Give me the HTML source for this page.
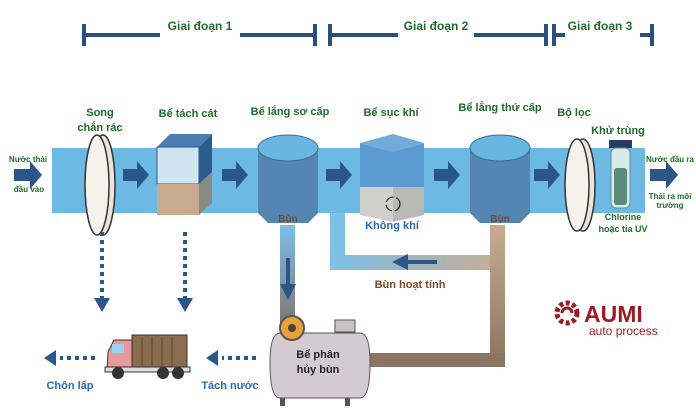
<!DOCTYPE html>
<html><head><meta charset="utf-8"><style>
body{margin:0;background:#fff}
svg{display:block;font-family:"Liberation Sans",sans-serif;font-weight:bold}
.g{fill:#1f6b2a;font-size:11px}
</style></head><body>
<svg width="696" height="412" viewBox="0 0 696 412">
<defs>
<linearGradient id="ret" x1="0" x2="1"><stop offset="0" stop-color="#7cc0e8"/><stop offset="1" stop-color="#c9ab90"/></linearGradient>
<linearGradient id="pri" x1="0" y1="0" x2="0" y2="1"><stop offset="0" stop-color="#7cc0e8"/><stop offset="1" stop-color="#7d7770"/></linearGradient>
<linearGradient id="sec" x1="0" y1="0" x2="0" y2="1"><stop offset="0" stop-color="#c9ab90"/><stop offset="1" stop-color="#8b7461"/></linearGradient>
<marker id="ah" markerWidth="4" markerHeight="4" refX="2" refY="2" orient="auto"><path d="M0,0L4,2L0,4z" fill="#2a5788"/></marker>
</defs>
<!-- stage bar -->
<g stroke="#2d4f7c" stroke-width="4" fill="none">
<line x1="84" y1="35" x2="160" y2="35"/><line x1="240" y1="35" x2="315" y2="35"/>
<line x1="330" y1="35" x2="398" y2="35"/><line x1="474" y1="35" x2="546" y2="35"/>
<line x1="554" y1="35" x2="565" y2="35"/><line x1="640" y1="35" x2="652" y2="35"/>
<line x1="84" y1="24" x2="84" y2="46"/><line x1="315" y1="24" x2="315" y2="46"/>
<line x1="330" y1="24" x2="330" y2="46"/><line x1="546" y1="24" x2="546" y2="46"/>
<line x1="554" y1="24" x2="554" y2="46"/><line x1="652" y1="24" x2="652" y2="46"/>
</g>
<g class="g" style="font-size:12px" text-anchor="middle">
<text x="200" y="30">Giai đoạn 1</text><text x="436" y="30">Giai đoạn 2</text><text x="600" y="30">Giai đoạn 3</text>
</g>
<!-- return lines -->
<rect x="330" y="213" width="15" height="57" fill="#7cc0e8"/>
<rect x="330" y="255" width="175" height="15" fill="url(#ret)"/>
<rect x="490" y="225" width="15" height="142" fill="url(#sec)"/>
<rect x="360" y="353" width="145" height="14" fill="#8b7461"/>
<rect x="280" y="225" width="15" height="100" fill="url(#pri)"/>
<line x1="437" y1="262" x2="400" y2="262" stroke="#2a5788" stroke-width="4" marker-end="url(#ah)"/>
<line x1="288" y1="258" x2="288" y2="292" stroke="#2a5788" stroke-width="4" marker-end="url(#ah)"/>
<text x="410" y="288" text-anchor="middle" fill="#7a4b2a" font-size="11">Bùn hoạt tính</text>
<!-- band -->
<rect x="52" y="148" width="593" height="65" fill="#6cb9e4"/>
<!-- flow arrows -->
<g fill="#2a5788">
<path d="M14,169h16v-8l12,14l-12,14v-8h-16z"/>
<path d="M650,169h16v-8l12,14l-12,14v-8h-16z"/>
<path d="M123,169h14v-8l12,14l-12,14v-8h-14z"/>
<path d="M222,169h14v-8l12,14l-12,14v-8h-14z"/>
<path d="M326,169h14v-8l12,14l-12,14v-8h-14z"/>
<path d="M434,169h14v-8l12,14l-12,14v-8h-14z"/>
<path d="M534,169h14v-8l12,14l-12,14v-8h-14z"/>
</g>
<g class="g" font-size="8" text-anchor="middle" style="font-size:8px">
<text x="28" y="162">Nước thải</text><text x="29" y="192">đầu vào</text>
<text x="670" y="162">Nước đầu ra</text><text x="670" y="199">Thải ra môi</text><text x="670" y="208">trường</text>
</g>
<!-- screen -->
<ellipse cx="103" cy="185" rx="12" ry="50" fill="#e8e6df" stroke="#333" stroke-width="1.5"/>
<ellipse cx="97" cy="185" rx="12" ry="50" fill="#f4f2ea" stroke="#333" stroke-width="1.5"/>
<ellipse cx="583" cy="185" rx="12" ry="46" fill="#e8e6df" stroke="#333" stroke-width="1.5"/>
<ellipse cx="577" cy="185" rx="12" ry="46" fill="#f4f2ea" stroke="#333" stroke-width="1.5"/>
<!-- sand cube -->
<polygon points="157,147 170,134 212,134 199,147" fill="#4a7db0"/>
<rect x="157" y="147" width="42" height="37" fill="#cfe6f2" stroke="#2a5788"/>
<polygon points="199,147 212,134 212,172 199,184" fill="#2b5c8c"/>
<rect x="157" y="184" width="42" height="31" fill="#c9ab90"/>
<polygon points="199,184 212,172 212,203 199,215" fill="#8a8a84"/>
<!-- cylinders -->
<g>
<path d="M258,148v65l10,10h40l10,-10v-65z" fill="#5585b3"/>
<ellipse cx="288" cy="148" rx="30" ry="13" fill="#68b7e2" stroke="#3d6c9a"/>
<text x="288" y="222" text-anchor="middle" fill="#7a4b2a" font-size="10">Bùn</text>
<path d="M470,148v65l10,10h40l10,-10v-65z" fill="#5585b3"/>
<ellipse cx="500" cy="148" rx="30" ry="13" fill="#68b7e2" stroke="#3d6c9a"/>
<text x="500" y="222" text-anchor="middle" fill="#7a4b2a" font-size="10">Bùn</text>
</g>
<!-- aeration -->
<polygon points="360,143 393,134 424,143 393,152" fill="#72abd9"/>
<polygon points="360,143 393,152 393,187 360,187" fill="#5b9bd2"/>
<polygon points="393,152 424,143 424,187 393,187" fill="#5b9bd2"/>
<polygon points="360,187 393,187 393,222 360,215" fill="#cfcfcc"/>
<polygon points="393,187 424,187 424,215 393,222" fill="#b9b9b6"/>
<circle cx="393" cy="204" r="7" fill="none" stroke="#222" stroke-width="1.2" stroke-dasharray="9 3"/>
<text x="392" y="229" text-anchor="middle" fill="#2a6aa8" font-size="11">Không khí</text>
<!-- tube -->
<rect x="609" y="140" width="23" height="8" fill="#2a3a66"/>
<rect x="611" y="148" width="19" height="60" rx="5" fill="#d7ece8" stroke="#6b8e8a"/>
<rect x="614" y="168" width="13" height="37" rx="3" fill="#5c8a7c"/>
<g class="g" text-anchor="middle">
<text x="100" y="116">Song</text><text x="100" y="131">chắn rác</text>
<text x="188" y="117">Bể tách cát</text><text x="290" y="115">Bể lắng sơ cấp</text>
<text x="391" y="116">Bể sục khí</text><text x="500" y="111">Bể lắng thứ cấp</text>
<text x="574" y="116">Bộ lọc</text><text x="618" y="134">Khử trùng</text>
<text x="623" y="220" style="font-size:9px">Chlorine</text><text x="623" y="232" style="font-size:9px">hoặc tia UV</text>
</g>
<!-- dotted down -->
<g stroke="#2a5788" stroke-width="4" stroke-dasharray="4 4">
<line x1="102" y1="232" x2="102" y2="298"/><line x1="185" y1="232" x2="185" y2="298"/>
<line x1="95" y1="358" x2="60" y2="358"/><line x1="256" y1="358" x2="222" y2="358"/>
</g>
<g fill="#2a5788">
<path d="M94,298h16l-8,14z"/><path d="M177,298h16l-8,14z"/>
<path d="M56,350v16l-12,-8z"/><path d="M218,350v16l-12,-8z"/>
</g>
<text x="70" y="389" text-anchor="middle" fill="#2a6aa8" font-size="11">Chôn lấp</text>
<text x="230" y="389" text-anchor="middle" fill="#2a6aa8" font-size="11">Tách nước</text>
<!-- truck -->
<rect x="132" y="335" width="55" height="32" fill="#8a6d4f" stroke="#333"/>
<g stroke="#5a4530"><line x1="142" y1="337" x2="142" y2="366"/><line x1="152" y1="337" x2="152" y2="366"/><line x1="162" y1="337" x2="162" y2="366"/><line x1="172" y1="337" x2="172" y2="366"/></g>
<path d="M108,352l6,-12h18v30h-25z" fill="#e89a9a" stroke="#333"/>
<rect x="112" y="344" width="12" height="9" fill="#9fd0ee"/>
<rect x="105" y="367" width="85" height="5" fill="#ddd" stroke="#333"/>
<circle cx="118" cy="373" r="6" fill="#333"/><circle cx="163" cy="373" r="6" fill="#333"/><circle cx="178" cy="373" r="6" fill="#333"/>
<!-- digester -->
<rect x="335" y="320" width="20" height="12" fill="#c8c4c6" stroke="#555"/>
<path d="M280,333h80q10,0 10,30q0,35 -10,35h-80q-10,0 -10,-35q0,-30 10,-30z" fill="#d3cbd0" stroke="#555"/>
<rect x="280" y="398" width="5" height="8" fill="#555"/><rect x="345" y="398" width="5" height="8" fill="#555"/>
<circle cx="292" cy="328" r="12" fill="#e8a23a" stroke="#555" stroke-width="2"/>
<circle cx="292" cy="328" r="4" fill="#444"/>
<text x="318" y="358" text-anchor="middle" fill="#222" font-size="11">Bể phân</text>
<text x="318" y="373" text-anchor="middle" fill="#222" font-size="11">hủy bùn</text>
<!-- logo -->
<circle cx="567" cy="313" r="10" fill="none" stroke="#9b1c24" stroke-width="5" stroke-dasharray="4 2.5"/>
<path d="M562,313a5,5 0 0 1 10,0" stroke="#9b1c24" stroke-width="3" fill="none"/>
<text x="584" y="322" fill="#9b1c24" font-size="23" font-weight="900">AUMI</text>
<text x="589" y="335" fill="#9b1c24" font-size="12" font-weight="normal">auto process</text>
</svg>
</body></html>
